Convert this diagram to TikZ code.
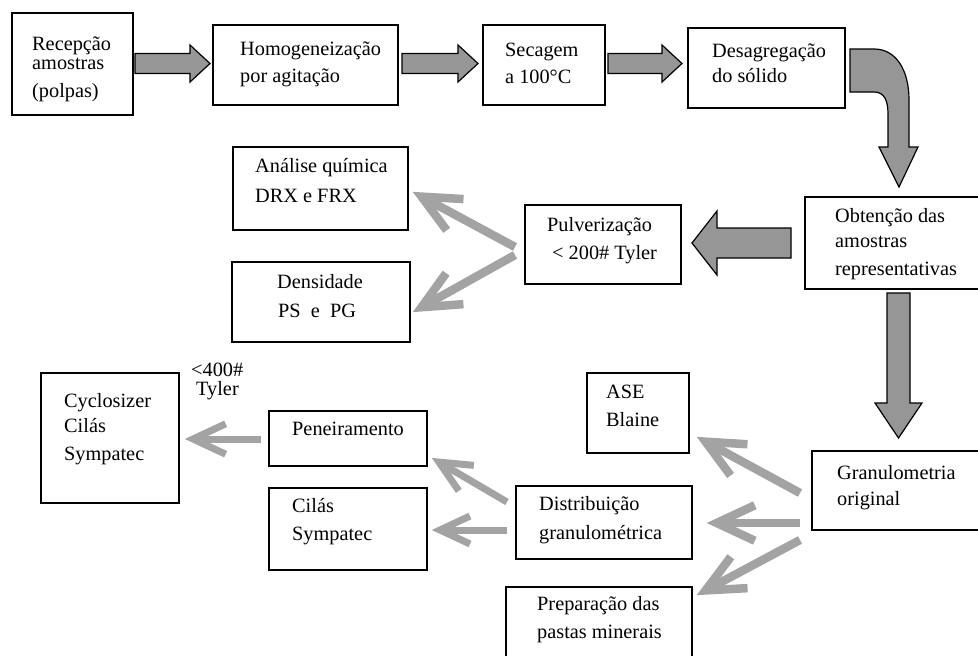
\documentclass[tikz,border=0pt]{standalone}
\usepackage{fontspec}
\setmainfont{Liberation Serif}
\usetikzlibrary{calc}
\definecolor{blockgray}{RGB}{150,150,150}
\definecolor{linegray}{RGB}{163,163,163}
\newcommand\mybox[5]{\node[box, minimum width={(#4)-(#2)}, minimum height={(#5)-(#3)}] (#1) at ({((#2)+(#4))/2},{((#3)+(#5))/2}) {};}
\newcommand\garr[5]{%
  \coordinate (#1s) at #2;
  \coordinate (#1t) at #3;
  \coordinate (#1v) at ($(#1t)!{1.15*#5pt}!(#1s)$);
  \draw[line width=#5pt, linegray] (#1s) -- (#1v);
  \draw[line width=#5pt, linegray, line join=miter, miter limit=10]
    ($(#1v)!#4pt!25:(#1s)$) -- (#1v) -- ($(#1v)!#4pt!-25:(#1s)$);
}
\begin{document}
\begin{tikzpicture}[x=1pt,y=-1pt,
  box/.style={draw=black, line width=1.6pt, inner sep=0pt},
  txt/.style={anchor=base west, inner sep=0pt},
  blk/.style={draw=black, line width=1.2pt, fill=blockgray, line join=miter},
  font=\fontsize{20.3}{24}\selectfont]
\useasboundingbox (0,0) rectangle (978,656);
\fill[white] (0,0) rectangle (978,656);
\clip (0,0) rectangle (978,656);

% boxes
\mybox{b1}{12}{13}{133}{115}
\mybox{b2}{213}{25}{398}{105}
\mybox{b3}{483}{25}{605}{105}
\mybox{b4}{688}{28}{845}{108}
\mybox{b5}{805}{197}{985}{289}
\mybox{b6}{525}{205}{681}{284}
\mybox{b7}{233}{147}{408}{230}
\mybox{b8}{232}{262}{410}{342}
\mybox{b9}{41}{373}{179}{503}
\mybox{b10}{269}{411}{427}{466}
\mybox{b11}{269}{488}{427}{570}
\mybox{b12}{587}{373}{689}{453}
\mybox{b13}{516}{486}{692}{559}
\mybox{b14}{506}{587}{692}{680}
\mybox{b15}{812}{451}{985}{530}

% texts
\node[txt] (t1a) at (32,50) {Recepção};
\node[txt] (t1b) at (32,69) {amostras};
\node[txt] (t1c) at (32,97) {(polpas)};
\node[txt] (t2a) at (240,55) {Homogeneização};
\node[txt] (t2b) at (240,82) {por agitação};
\node[txt] (t3a) at (505,56) {Secagem};
\node[txt] (t3b) at (505,83) {a 100°C};
\node[txt] (t4a) at (712,57) {Desagregação};
\node[txt] (t4b) at (712,82) {do sólido};
\node[txt] (t5a) at (835,222) {Obtenção das};
\node[txt] (t5b) at (835,247) {amostras};
\node[txt] (t5c) at (835,275) {representativas};
\node[txt] (t6a) at (547,231) {Pulverização};
\node[txt] (t6b) at (552,259) {< 200\# Tyler};
\node[txt] (t7a) at (255,172) {Análise química};
\node[txt] (t7b) at (255,202) {DRX e FRX};
\node[txt] (t8a) at (277,288) {Densidade};
\node[txt] (t8b) at (278,317) {PS\ \ e\ \ PG};
\node[txt] (t9a) at (64,407) {Cyclosizer};
\node[txt] (t9b) at (64,432) {Cilás};
\node[txt] (t9c) at (64,460) {Sympatec};
\node[txt] (l1a) at (191,376) {<400\#};
\node[txt] (l1b) at (196,395) {Tyler};
\node[txt] (t10a) at (292,435) {Peneiramento};
\node[txt] (t11a) at (292,512) {Cilás};
\node[txt] (t11b) at (292,540) {Sympatec};
\node[txt] (t12a) at (606,398) {ASE};
\node[txt] (t12b) at (606,426) {Blaine};
\node[txt] (t13a) at (539,510) {Distribuição};
\node[txt] (t13b) at (539,539) {granulométrica};
\node[txt] (t14a) at (537,610) {Preparação das};
\node[txt] (t14b) at (537,638) {pastas minerais};
\node[txt] (t15a) at (837,479) {Granulometria};
\node[txt] (t15b) at (837,505) {original};

% block arrows (right)
\coordinate (A1s) at (135,63.5); \coordinate (A1t) at (210,63.5);
\coordinate (A2s) at (402,63.5); \coordinate (A2t) at (478,63.5);
\coordinate (A3s) at (608,63.5); \coordinate (A3t) at (682,63.5);
\foreach \s/\t in {A1s/A1t, A2s/A2t, A3s/A3t}{
  \draw[blk] ($(\s)+(0,-10)$) -- ($(\t)+(-20,-10)$) -- ($(\t)+(-20,-18.5)$) -- (\t)
    -- ($(\t)+(-20,18.5)$) -- ($(\t)+(-20,10)$) -- ($(\s)+(0,10)$) -- cycle;
}
% curved arrow Desagregacao -> Obtencao
\coordinate (A4t) at (899,187);
\draw[blk] (850,49) -- (874,49) .. controls (896,49) and (909,70) .. (909,100)
  -- (909,147) -- (918,147) -- (A4t) -- (879,147) -- (888,147) -- (888,114)
  .. controls (888,100) and (884,92) .. (874,92) -- (850,92) -- cycle;
% left arrow Obtencao -> Pulverizacao
\coordinate (A5s) at (791,243); \coordinate (A5t) at (692,243);
\draw[blk] ($(A5s)+(0,-15)$) -- ($(A5t)+(25,-15)$) -- ($(A5t)+(25,-32)$) -- (A5t)
  -- ($(A5t)+(25,32)$) -- ($(A5t)+(25,15)$) -- ($(A5s)+(0,15)$) -- cycle;
% down arrow Obtencao -> Granulometria
\coordinate (A6s) at (898.5,293); \coordinate (A6t) at (898.5,438);
\draw[blk] ($(A6s)+(-11.5,0)$) -- ($(A6t)+(-11.5,-35)$) -- ($(A6t)+(-23.5,-35)$) -- (A6t)
  -- ($(A6t)+(23.5,-35)$) -- ($(A6t)+(11.5,-35)$) -- ($(A6s)+(11.5,0)$) -- cycle;

% gray line arrows
\garr{g1}{(515,247)}{(413,192)}{42}{8.5}
\garr{g2}{(515,255)}{(413,312)}{42}{8.5}
\garr{g3}{(800,493)}{(697,437)}{42}{8.5}
\garr{g4}{(800,523)}{(707,523)}{42}{8.5}
\garr{g5}{(800,540)}{(697,595)}{42}{8.5}
\garr{g6}{(507,502)}{(432,458)}{35}{7}
\garr{g7}{(507,530)}{(432,530)}{33}{7}
\garr{g8}{(261,439)}{(185,439)}{36}{7}
\end{tikzpicture}
\end{document}
